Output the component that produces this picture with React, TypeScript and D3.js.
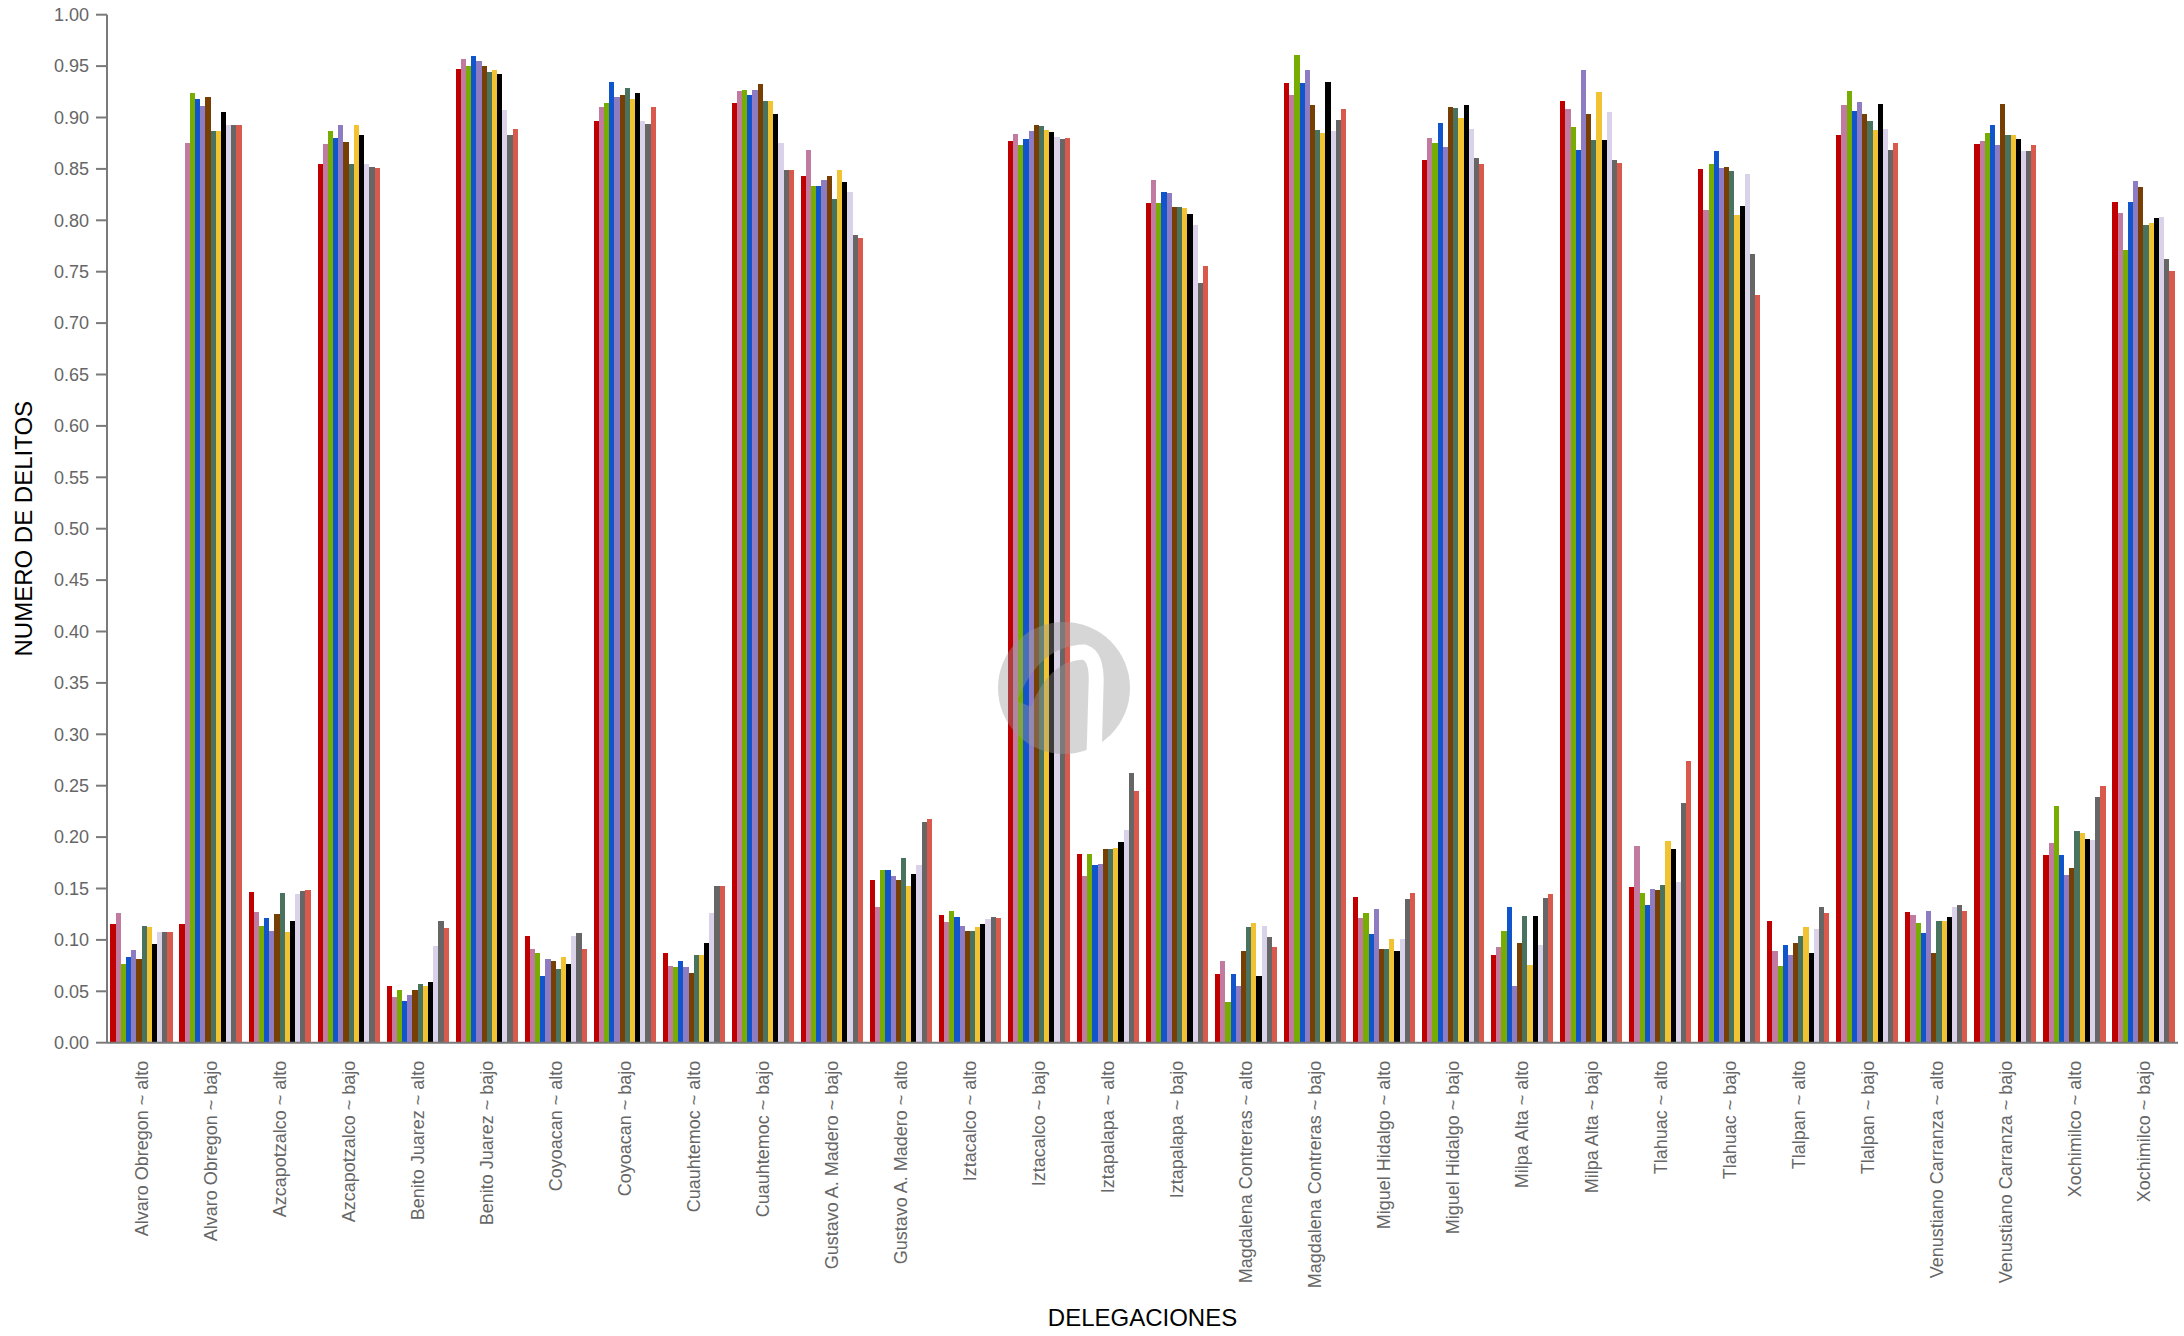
import React from "react";
import * as d3 from "d3";

const categories: string[] = [
  "Alvaro Obregon ~ alto", "Alvaro Obregon ~ bajo",
  "Azcapotzalco ~ alto", "Azcapotzalco ~ bajo",
  "Benito Juarez ~ alto", "Benito Juarez ~ bajo",
  "Coyoacan ~ alto", "Coyoacan ~ bajo",
  "Cuauhtemoc ~ alto", "Cuauhtemoc ~ bajo",
  "Gustavo A. Madero ~ bajo", "Gustavo A. Madero ~ alto",
  "Iztacalco ~ alto", "Iztacalco ~ bajo",
  "Iztapalapa ~ alto", "Iztapalapa ~ bajo",
  "Magdalena Contreras ~ alto", "Magdalena Contreras ~ bajo",
  "Miguel Hidalgo ~ alto", "Miguel Hidalgo ~ bajo",
  "Milpa Alta ~ alto", "Milpa Alta ~ bajo",
  "Tlahuac ~ alto", "Tlahuac ~ bajo",
  "Tlalpan ~ alto", "Tlalpan ~ bajo",
  "Venustiano Carranza ~ alto", "Venustiano Carranza ~ bajo",
  "Xochimilco ~ alto", "Xochimilco ~ bajo",
];

// one array per series (12 series), one value per category
const s01 = [0.115, 0.115, 0.147, 0.855, 0.055, 0.947, 0.104, 0.897, 0.087, 0.914, 0.843, 0.158, 0.124, 0.877, 0.184, 0.817, 0.067, 0.934, 0.142, 0.859, 0.085, 0.916, 0.151, 0.850, 0.118, 0.883, 0.127, 0.874, 0.183, 0.818];
const s02 = [0.126, 0.875, 0.127, 0.874, 0.044, 0.957, 0.091, 0.910, 0.075, 0.926, 0.868, 0.132, 0.117, 0.884, 0.162, 0.839, 0.079, 0.922, 0.121, 0.880, 0.093, 0.908, 0.191, 0.810, 0.089, 0.912, 0.124, 0.877, 0.194, 0.807];
const s03 = [0.077, 0.924, 0.114, 0.887, 0.051, 0.950, 0.087, 0.914, 0.074, 0.927, 0.833, 0.168, 0.128, 0.873, 0.184, 0.817, 0.040, 0.961, 0.126, 0.875, 0.109, 0.891, 0.146, 0.855, 0.075, 0.926, 0.116, 0.885, 0.230, 0.771];
const s04 = [0.083, 0.918, 0.121, 0.880, 0.041, 0.960, 0.065, 0.935, 0.079, 0.922, 0.833, 0.168, 0.122, 0.879, 0.173, 0.828, 0.067, 0.934, 0.106, 0.895, 0.132, 0.868, 0.134, 0.867, 0.095, 0.906, 0.107, 0.893, 0.183, 0.818];
const s05 = [0.090, 0.911, 0.109, 0.893, 0.046, 0.955, 0.081, 0.920, 0.074, 0.927, 0.839, 0.162, 0.114, 0.887, 0.174, 0.827, 0.055, 0.946, 0.130, 0.871, 0.055, 0.946, 0.150, 0.851, 0.085, 0.915, 0.128, 0.873, 0.163, 0.838];
const s06 = [0.081, 0.920, 0.125, 0.876, 0.051, 0.950, 0.079, 0.922, 0.068, 0.933, 0.843, 0.158, 0.109, 0.893, 0.188, 0.813, 0.089, 0.912, 0.091, 0.910, 0.097, 0.903, 0.149, 0.852, 0.097, 0.903, 0.087, 0.913, 0.170, 0.832];
const s07 = [0.114, 0.887, 0.146, 0.855, 0.057, 0.944, 0.072, 0.929, 0.085, 0.916, 0.821, 0.180, 0.109, 0.892, 0.188, 0.813, 0.113, 0.888, 0.091, 0.909, 0.123, 0.878, 0.153, 0.848, 0.104, 0.897, 0.118, 0.883, 0.206, 0.795];
const s08 = [0.113, 0.887, 0.108, 0.893, 0.055, 0.946, 0.083, 0.918, 0.085, 0.916, 0.849, 0.152, 0.113, 0.888, 0.189, 0.812, 0.116, 0.885, 0.101, 0.900, 0.076, 0.925, 0.196, 0.805, 0.113, 0.888, 0.118, 0.883, 0.204, 0.797];
const s09 = [0.096, 0.905, 0.118, 0.883, 0.059, 0.942, 0.077, 0.924, 0.097, 0.903, 0.837, 0.164, 0.115, 0.886, 0.195, 0.806, 0.065, 0.935, 0.089, 0.912, 0.123, 0.878, 0.188, 0.814, 0.087, 0.913, 0.122, 0.879, 0.198, 0.802];
const s10 = [0.108, 0.893, 0.145, 0.855, 0.094, 0.907, 0.104, 0.897, 0.126, 0.875, 0.828, 0.173, 0.120, 0.881, 0.207, 0.795, 0.114, 0.887, 0.101, 0.889, 0.095, 0.905, 0.156, 0.845, 0.111, 0.889, 0.132, 0.867, 0.197, 0.803];
const s11 = [0.108, 0.893, 0.148, 0.852, 0.118, 0.883, 0.107, 0.894, 0.152, 0.849, 0.786, 0.215, 0.122, 0.879, 0.262, 0.739, 0.103, 0.898, 0.140, 0.861, 0.141, 0.859, 0.233, 0.767, 0.132, 0.868, 0.134, 0.867, 0.239, 0.762];
const s12 = [0.108, 0.893, 0.149, 0.851, 0.112, 0.889, 0.091, 0.910, 0.152, 0.849, 0.783, 0.218, 0.121, 0.880, 0.245, 0.756, 0.093, 0.908, 0.146, 0.855, 0.145, 0.856, 0.274, 0.727, 0.126, 0.875, 0.128, 0.873, 0.250, 0.751];

const seriesNames = ["s01", "s02", "s03", "s04", "s05", "s06", "s07", "s08", "s09", "s10", "s11", "s12"];
const seriesValues = [s01, s02, s03, s04, s05, s06, s07, s08, s09, s10, s11, s12];
const seriesColors = [
  "#c00000", "#c27ba0", "#76ad00", "#1155cc", "#8e7cc3", "#783f04",
  "#4a735f", "#f1c232", "#000000", "#d9d2e9", "#666666", "#d95a4c",
];

const yTicks = d3.range(0, 1.0001, 0.05);

const W = 2184;
const H = 1336;
const left = 107;
const right = 2178;
const top = 14.7;
const bottom = 1042.7;
const FONT = "'Liberation Sans', Arial, Helvetica, sans-serif";
const AXIS = "#7a7a7a";
const TXT = "#666666";

export default function App() {
  const x0 = d3.scaleBand<string>().domain(categories).range([left, right]).paddingInner(0.1).paddingOuter(0.05);
  const x1 = d3.scaleBand<string>().domain(seriesNames).range([0, x0.bandwidth()]).padding(0);
  const y = d3.scaleLinear().domain([0, 1]).range([bottom, top]);
  const fmt = d3.format(".2f");

  const bars: React.ReactNode[] = [];
  categories.forEach((c, ci) => {
    seriesNames.forEach((s, si) => {
      const v = seriesValues[si][ci];
      bars.push(
        <rect
          key={c + s}
          x={(x0(c) as number) + (x1(s) as number)}
          y={y(v)}
          width={x1.bandwidth()}
          height={y(0) - y(v)}
          fill={seriesColors[si]}
        />
      );
    });
  });

  const wmCx = 1064;
  const wmCy = 688;

  return (
    <div>
      <style>{`body{margin:0;background:#fff}`}</style>
      <svg width={W} height={H} style={{ display: "block" }} fontFamily={FONT}>
        <defs>
          <mask id="wmMask">
            <rect x={0} y={0} width={W} height={H} fill="white" />
            <path
              d={`M ${wmCx - 40} ${wmCy + 16} Q ${wmCx - 20} ${wmCy - 35} ${wmCx + 20} ${wmCy - 36} Q ${wmCx + 34} ${wmCy - 32} ${wmCx + 32} ${wmCy} L ${wmCx + 30} ${wmCy + 70}`}
              stroke="black"
              strokeWidth={15}
              fill="none"
            />
          </mask>
        </defs>
        <g shapeRendering="crispEdges">{bars}</g>

        {/* y axis */}
        <g>
          <line x1={left} x2={left} y1={top} y2={bottom} stroke={AXIS} strokeWidth={2} />
          {yTicks.map((t) => (
            <g key={t} transform={`translate(0,${y(t)})`}>
              <line x1={left - 11} x2={left} y1={0} y2={0} stroke={AXIS} strokeWidth={2} />
              <text x={left - 18} dy="0.35em" textAnchor="end" fontSize={18} fill={TXT}>
                {fmt(t)}
              </text>
            </g>
          ))}
        </g>

        {/* x axis */}
        <g>
          <line x1={left} x2={right} y1={bottom} y2={bottom} stroke={AXIS} strokeWidth={2} />
          {categories.map((c) => (
            <text
              key={c}
              transform={`translate(${(x0(c) as number) + x0.bandwidth() / 2},${bottom + 18}) rotate(-90)`}
              dy="0.35em"
              textAnchor="end"
              fontSize={18}
              fill={TXT}
            >
              {c}
            </text>
          ))}
        </g>

        <text transform={`translate(32,${(top + bottom) / 2}) rotate(-90)`} textAnchor="middle" fontSize={24} fill="#000">
          NUMERO DE DELITOS
        </text>
        <text x={(left + right) / 2} y={1326} textAnchor="middle" fontSize={24} fill="#000">
          DELEGACIONES
        </text>

        {/* watermark */}
        <circle cx={wmCx} cy={wmCy} r={66} fill="#9a9a9a" opacity={0.4} mask="url(#wmMask)" />
      </svg>
    </div>
  );
}
